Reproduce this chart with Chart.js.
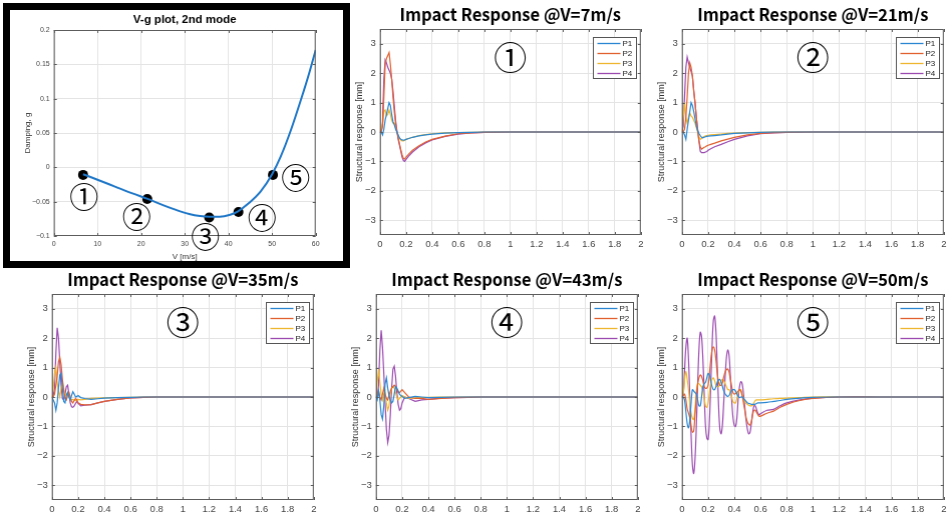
<!DOCTYPE html>
<html>
<head>
<meta charset="utf-8">
<title>V-g plot and impact responses</title>
<script src="https://cdn.jsdelivr.net/npm/chart.js@4.4.1/dist/chart.umd.min.js"></script>
<style>
  html, body { margin: 0; padding: 0; background: #fff; overflow: hidden; }
  #page { position: relative; width: 948px; height: 515px; }
  .panel { position: absolute; left: 0; top: 0; width: 320px; height: 270px; }
  .panel canvas { display: block; }
  #frame { position: absolute; left: 3px; top: 3px; width: 333px; height: 251px; border: 7px solid #000; }
</style>
</head>
<body>
<div id="page">
  <div id="frame"></div>
  <div class="panel" id="w0"><canvas id="c0"></canvas></div>
  <div class="panel" id="w1"><canvas id="c1"></canvas></div>
  <div class="panel" id="w2"><canvas id="c2"></canvas></div>
  <div class="panel" id="w3"><canvas id="c3"></canvas></div>
  <div class="panel" id="w4"><canvas id="c4"></canvas></div>
  <div class="panel" id="w5"><canvas id="c5"></canvas></div>
</div>
<script>
// ---- V-g plot (2nd mode) ----
const vgSpeed   = [6.7, 10, 14, 18, 21.5, 25, 28, 31, 33.5, 35.7, 38, 40.4, 42.2, 44.7, 47.4, 50, 52, 54.3, 56.6, 58.5, 60];
const vgDamping = [-0.010, -0.018, -0.028, -0.038, -0.046, -0.055, -0.062, -0.068, -0.071, -0.072, -0.072, -0.069, -0.064, -0.052, -0.035, -0.010, 0.016, 0.054, 0.098, 0.137, 0.171];
const caseSpeed   = [6.7, 21.4, 35.6, 42.3, 50.2];
const caseDamping = [-0.011, -0.046, -0.073, -0.065, -0.011];
const caseLabels  = ['①', '②', '③', '④', '⑤'];
const caseLabelV  = [6.9, 19, 34.7, 47.7, 55.4];
const caseLabelG  = [-0.043, -0.072, -0.102, -0.074, -0.016];
const vgXTicks = [0, 10, 20, 30, 40, 50, 60];
const vgYTicks = [-0.1, -0.05, 0, 0.05, 0.1, 0.15, 0.2];

// ---- impact responses ----
const speeds = [7, 21, 35, 43, 50];
const seriesNames = ['P1', 'P2', 'P3', 'P4'];
const respXTicks = [0, 0.2, 0.4, 0.6, 0.8, 1, 1.2, 1.4, 1.6, 1.8, 2];
const respYTicks = [-3, -2, -1, 0, 1, 2, 3];
const labelT = 1.0, labelY = 2.55;   // where the circled case number sits

// time base for 7, 21, 35, 43 m/s [s]
const tA = [0, 0.01, 0.02, 0.03, 0.04, 0.05, 0.06, 0.07, 0.08, 0.09, 0.1, 0.11, 0.12, 0.13, 0.14, 0.15, 0.16, 0.17, 0.18, 0.19, 0.2, 0.22, 0.25, 0.3, 0.35, 0.4, 0.5, 0.6, 0.7, 0.8, 1, 1.5, 2];

const v7P1 = [0, 0, -0.1, 0.1, 0.4, 0.6, 0.8, 1.0, 0.9, 0.6, 0.35, 0.25, 0.1, 0, -0.1, -0.2, -0.25, -0.27, -0.28, -0.27, -0.25, -0.22, -0.18, -0.13, -0.1, -0.07, -0.04, -0.02, -0.01, 0, 0, 0, 0];
const v7P2 = [0, 0, 0.2, 1.2, 2.3, 2.5, 2.6, 2.7, 2.3, 1.8, 1.2, 0.7, 0.3, 0, -0.2, -0.4, -0.6, -0.78, -0.9, -0.92, -0.85, -0.75, -0.62, -0.47, -0.34, -0.25, -0.14, -0.06, -0.03, -0.01, 0, 0, 0];
const v7P3 = [0, 0.05, 0.3, 0.7, 0.75, 0.55, 0.6, 0.75, 0.6, 0.4, 0.3, 0.3, 0.15, 0, -0.12, -0.22, -0.27, -0.3, -0.3, -0.28, -0.25, -0.22, -0.18, -0.12, -0.09, -0.06, -0.03, -0.02, -0.01, 0, 0, 0, 0];
const v7P4 = [0, 0, 0.3, 1.8, 2.45, 2.35, 2.2, 2.1, 2.0, 1.8, 1.4, 0.9, 0.4, 0.05, -0.25, -0.45, -0.65, -0.85, -0.97, -1.0, -0.93, -0.82, -0.68, -0.5, -0.37, -0.27, -0.15, -0.07, -0.03, -0.01, 0, 0, 0];

const v21P1 = [0, 0, -0.1, -0.25, 0.1, 0.4, 0.7, 1.0, 0.9, 0.7, 0.45, 0.2, 0.05, -0.05, -0.12, -0.18, -0.2, -0.18, -0.16, -0.15, -0.14, -0.13, -0.12, -0.1, -0.07, -0.05, -0.03, -0.01, 0, 0, 0, 0, 0];
const v21P2 = [0, 0, 0.1, 0.5, 1.2, 2.0, 2.35, 2.2, 1.9, 1.4, 1.0, 0.5, 0.05, -0.3, -0.5, -0.58, -0.55, -0.52, -0.5, -0.47, -0.45, -0.42, -0.38, -0.3, -0.24, -0.18, -0.1, -0.05, -0.02, -0.01, 0, 0, 0];
const v21P3 = [0, 0.5, 1.0, 0.5, 0.3, 0.5, 0.65, 0.55, 0.5, 0.4, 0.3, 0.15, 0, -0.15, -0.25, -0.22, -0.18, -0.15, -0.13, -0.12, -0.11, -0.1, -0.09, -0.07, -0.05, -0.04, -0.02, -0.01, 0, 0, 0, 0, 0];
const v21P4 = [0, 0.2, 1.2, 2.2, 2.55, 2.35, 2.2, 2.05, 1.9, 1.4, 1.0, 0.5, 0.1, -0.3, -0.65, -0.7, -0.7, -0.7, -0.68, -0.66, -0.62, -0.57, -0.5, -0.42, -0.33, -0.25, -0.13, -0.06, -0.03, -0.01, 0, 0, 0];

const v35P1 = [0, -0.1, -0.2, -0.45, -0.2, 0.3, 0.75, 0.8, 0.3, -0.15, -0.2, 0.05, 0.15, 0, -0.1, 0.05, 0.18, 0.1, 0, 0.02, 0.05, -0.02, -0.05, -0.08, -0.06, -0.04, -0.02, -0.01, 0, 0, 0, 0, 0];
const v35P2 = [0, 0, 0.1, 0.4, 0.7, 1.2, 1.35, 1.1, 0.6, 0.2, -0.05, -0.1, 0.05, 0.15, 0, -0.15, -0.2, -0.12, -0.05, -0.1, -0.2, -0.25, -0.27, -0.26, -0.2, -0.15, -0.08, -0.03, -0.01, 0, 0, 0, 0];
const v35P3 = [0, 0.3, 0.8, 1.0, 0.5, 0.2, 0, 0.3, 0.5, 0.3, 0.05, 0.1, 0.15, 0.05, -0.05, -0.1, -0.08, -0.1, -0.12, -0.1, -0.08, -0.1, -0.08, -0.05, -0.04, -0.03, -0.02, -0.01, 0, 0, 0, 0, 0];
const v35P4 = [0, 0.05, 0.3, 1.5, 2.35, 2.0, 1.2, 0.4, -0.05, -0.1, 0.1, 0.35, 0.4, 0.1, -0.2, -0.33, -0.35, -0.3, -0.22, -0.15, -0.22, -0.3, -0.28, -0.26, -0.2, -0.15, -0.08, -0.03, -0.01, 0, 0, 0, 0];

const v43P1 = [0, -0.1, 0.2, -0.1, -0.6, -0.75, -0.3, 0.45, 0.65, 0.3, 0.05, -0.1, -0.2, -0.15, 0.1, 0.35, 0.3, 0.2, 0.1, 0.05, 0.02, -0.05, -0.02, 0.02, 0, -0.02, -0.01, 0, 0, 0, 0, 0, 0];
const v43P2 = [0, 0.05, 0.2, 0, -0.1, 0.1, 0.3, 0.1, -0.05, -0.1, 0.05, 0.2, 0.3, 0.35, 0.4, 0.35, 0.25, 0.15, 0.15, 0.2, 0.25, 0.15, 0, -0.05, -0.05, -0.08, -0.05, -0.02, -0.01, 0, 0, 0, 0];
const v43P3 = [0, 0.5, 0.95, 0.5, 0.1, -0.1, 0.1, 0.2, -0.2, -0.45, -0.3, 0.1, 0.3, 0.35, 0.3, 0.15, 0, -0.1, -0.05, 0, 0.05, 0, -0.05, -0.03, -0.02, -0.01, 0, 0, 0, 0, 0, 0, 0];
const v43P4 = [0, 0, 0.4, 1.6, 2.27, 1.7, 0.8, -0.2, -1.1, -1.55, -1.3, -0.6, 0.3, 0.95, 1.05, 0.7, 0.15, -0.25, -0.45, -0.4, -0.2, 0, -0.05, -0.15, -0.1, -0.08, -0.04, -0.02, -0.01, 0, 0, 0, 0];

// time base for 50 m/s [s]
const tB = [0, 0.01, 0.02, 0.03, 0.04, 0.05, 0.06, 0.07, 0.08, 0.09,
  0.1, 0.11, 0.12, 0.13, 0.14, 0.15, 0.16, 0.17, 0.18, 0.19,
  0.2, 0.21, 0.22, 0.23, 0.24, 0.25, 0.26, 0.27, 0.28, 0.29,
  0.3, 0.31, 0.32, 0.33, 0.34, 0.35, 0.36, 0.37, 0.38, 0.39,
  0.4, 0.41, 0.42, 0.43, 0.44, 0.45, 0.46, 0.47, 0.48, 0.49,
  0.5, 0.51, 0.52, 0.53, 0.54, 0.55, 0.56, 0.57, 0.58, 0.59,
  0.6, 0.65, 0.7, 0.75, 0.8, 0.9, 1, 1.2, 1.5, 2];

const v50P1 = [0, 0, -0.1, -0.5, -0.9, -1.05, -0.8, -0.2, 0.25, 0.2,
  0.15, 0.1, -0.1, -0.3, -0.3, 0, 0.35, 0.45, 0.5, 0.65,
  0.8, 0.75, 0.55, 0.35, 0.25, 0.25, 0.35, 0.5, 0.58, 0.6,
  0.5, 0.35, 0.2, 0.1, 0.05, 0.02, 0.05, 0.15, 0.22, 0.25,
  0.25, 0.2, 0.1, 0.02, -0.02, 0, 0, -0.05, -0.1, -0.15,
  -0.2, -0.22, -0.23, -0.25, -0.25, -0.25, -0.24, -0.22, -0.2, -0.2,
  -0.2, -0.18, -0.15, -0.12, -0.08, -0.04, -0.01, 0, 0, 0];
const v50P2 = [0, 0.05, 0.1, -0.1, -0.4, -0.55, -0.7, -1.0, -1.2, -1.15,
  -0.6, 0, 0.45, 0.65, 0.75, 0.7, 0.55, 0.35, 0.3, 0.3,
  0.4, 0.8, 1.25, 1.6, 1.7, 1.6, 1.25, 0.8, 0.5, 0.4,
  0.4, 0.5, 0.7, 0.85, 0.93, 0.95, 0.85, 0.6, 0.35, 0.15,
  0.1, 0.12, 0.15, 0.2, 0.25, 0.2, 0.05, -0.2, -0.45, -0.7,
  -0.85, -0.93, -0.95, -0.85, -0.6, -0.45, -0.45, -0.52, -0.6, -0.65,
  -0.65, -0.55, -0.48, -0.35, -0.25, -0.12, -0.05, 0, 0, 0];
const v50P3 = [0, 0.1, 0.6, 0.87, 0.6, 0.25, -0.2, -0.55, -0.72, -0.77,
  -0.4, 0.2, 0.45, 0.45, 0.4, 0.35, 0.2, -0.05, -0.3, -0.35,
  -0.2, 0.15, 0.45, 0.6, 0.65, 0.55, 0.4, 0.35, 0.35, 0.45,
  0.55, 0.6, 0.55, 0.45, 0.35, 0.25, 0.25, 0.15, 0, -0.15,
  -0.2, -0.2, -0.05, 0.15, 0.25, 0.25, 0.1, -0.05, -0.15, -0.22,
  -0.25, -0.28, -0.3, -0.3, -0.28, -0.2, -0.12, -0.1, -0.1, -0.1,
  -0.1, -0.08, -0.06, -0.05, -0.04, -0.02, 0, 0, 0, 0];
const v50P4 = [0, 0.1, 0.9, 1.7, 2.0, 1.3, 0, -1.3, -2.3, -2.6,
  -2.1, -1.0, 0.4, 1.6, 2.2, 2.05, 1.3, 0.1, -1.0, -1.4,
  -1.45, -0.8, 0.4, 1.7, 2.6, 2.75, 2.2, 1.0, -0.3, -1.1,
  -1.25, -0.9, -0.1, 0.7, 1.35, 1.6, 1.4, 0.7, -0.1, -0.7,
  -0.97, -1.0, -0.7, -0.05, 0.35, 0.52, 0.45, 0.1, -0.35, -0.8,
  -1.1, -1.25, -1.2, -0.9, -0.55, -0.3, -0.3, -0.42, -0.55, -0.6,
  -0.57, -0.45, -0.42, -0.3, -0.2, -0.1, -0.04, 0, 0, 0];

const seriesColors = ['#2a86d1', '#e0602e', '#eeb62e', '#9b4bb0'];

// plot boxes in the 948x515 page (chart area position)
const boxes = [
  {x: 54,  y: 30,  w: 261, h: 206},
  {x: 380, y: 29,  w: 260, h: 206},
  {x: 682, y: 29,  w: 261, h: 206},
  {x: 52,  y: 294, w: 261, h: 206},
  {x: 376, y: 294, w: 261, h: 206},
  {x: 682, y: 294, w: 261, h: 206}
];

Chart.defaults.font.family = "'Liberation Sans', Arial, sans-serif";
Chart.defaults.color = '#444';

const fmt = v => String(v).replace('-', '\u2212');
const sans = "'Liberation Sans', Arial, sans-serif";

// draws the axes box, inward ticks, titles, circled case numbers and the legend box
const decor = {
  id: 'decor',
  afterDraw(chart, args, o) {
    const {ctx, chartArea: a, scales: {x, y}} = chart;
    ctx.save();
    const seg = (x1, y1, x2, y2) => { ctx.beginPath(); ctx.moveTo(x1, y1); ctx.lineTo(x2, y2); ctx.stroke(); };
    ctx.strokeStyle = '#5c5c5c';
    ctx.lineWidth = 1;
    ctx.strokeRect(a.left + 0.5, a.top + 0.5, a.right - a.left - 1, a.bottom - a.top - 1);
    x.ticks.forEach(t => {
      const px = Math.round(x.getPixelForValue(t.value)) + 0.5;
      seg(px, a.bottom, px, a.bottom - 3);
      seg(px, a.top, px, a.top + 3);
    });
    y.ticks.forEach(t => {
      const py = Math.round(y.getPixelForValue(t.value)) + 0.5;
      seg(a.left, py, a.left + 3, py);
      seg(a.right, py, a.right - 3, py);
    });

    ctx.textAlign = 'center';
    ctx.textBaseline = 'middle';
    ctx.fillStyle = '#333';
    ctx.font = o.axisFont;
    if (o.xTitle) ctx.fillText(o.xTitle, (a.left + a.right) / 2, a.bottom + o.xTitleGap);
    if (o.yTitle) {
      ctx.save();
      ctx.translate(a.left - o.yTitleGap, (a.top + a.bottom) / 2);
      ctx.rotate(-Math.PI / 2);
      ctx.fillText(o.yTitle, 0, 0);
      ctx.restore();
    }

    ctx.fillStyle = '#000';
    ctx.font = o.titleFont;
    ctx.fillText(o.title, (a.left + a.right) / 2, a.top - o.titleGap);

    ctx.font = o.markFont;
    o.marks.forEach(m => ctx.fillText(m.text, x.getPixelForValue(m.x), y.getPixelForValue(m.y)));

    if (o.legend) {
      const bw = 43, bh = 41;
      const bx = Math.round(a.right - 5 - bw) + 0.5, by = Math.round(a.top + 8) + 0.5;
      ctx.fillStyle = '#fff';
      ctx.fillRect(bx, by, bw, bh);
      ctx.strokeStyle = '#555';
      ctx.strokeRect(bx, by, bw, bh);
      ctx.font = '8px ' + sans;
      ctx.textAlign = 'left';
      chart.data.datasets.forEach((ds, i) => {
        const ry = by + 6 + i * 10;
        ctx.strokeStyle = ds.borderColor;
        ctx.lineWidth = 1.3;
        seg(bx + 4, ry, bx + 27, ry);
        ctx.fillStyle = '#222';
        ctx.fillText(ds.label, bx + 29, ry + 0.5);
      });
    }
    ctx.restore();
  }
};

function axis(min, max, ticks, size) {
  return {
    type: 'linear', min, max,
    afterBuildTicks: ax => { ax.ticks = ticks.map(v => ({value: v})); },
    ticks: { callback: v => fmt(v), font: {size}, color: '#444', padding: 4, maxRotation: 0, autoSkip: false },
    grid: { color: '#e4e4e4', drawTicks: false },
    border: { display: false }
  };
}

// move/resize each canvas so that its chart area lands on the wanted box
function place(chart, wrap, box) {
  for (let k = 0; k < 2; k++) {
    const a = chart.chartArea;
    wrap.style.width = (chart.width + box.w - (a.right - a.left)) + 'px';
    wrap.style.height = (chart.height + box.h - (a.bottom - a.top)) + 'px';
    chart.resize();
    const b = chart.chartArea;
    wrap.style.left = (box.x - b.left) + 'px';
    wrap.style.top = (box.y - b.top) + 'px';
  }
}

// V-g plot
const vgChart = new Chart(document.getElementById('c0'), {
  type: 'line',
  data: {
    datasets: [
      { data: vgSpeed.map((v, i) => ({x: v, y: vgDamping[i]})), borderColor: '#1f77c8', borderWidth: 2,
        pointRadius: 0, tension: 0.4, cubicInterpolationMode: 'monotone' },
      { data: caseSpeed.map((v, i) => ({x: v, y: caseDamping[i]})), showLine: false,
        pointRadius: 5, pointBackgroundColor: '#000', pointBorderWidth: 0 }
    ]
  },
  options: {
    responsive: true, maintainAspectRatio: false, animation: false,
    layout: { padding: {top: 26, right: 8, bottom: 18, left: 14} },
    plugins: {
      legend: { display: false }, tooltip: { enabled: false },
      decor: {
        title: 'V-g plot, 2nd mode', titleFont: 'bold 11.5px ' + sans, titleGap: 10,
        axisFont: '8px ' + sans, xTitle: 'V [m/s]', xTitleGap: 21, yTitle: 'Damping, g', yTitleGap: 26,
        markFont: "29px 'Noto Sans CJK KR'",
        marks: caseLabels.map((s, i) => ({text: s, x: caseLabelV[i], y: caseLabelG[i]})),
        legend: false
      }
    },
    scales: {
      x: axis(0, 60, vgXTicks, 7),
      y: axis(-0.1, 0.2, vgYTicks, 7)
    }
  },
  plugins: [decor]
});
place(vgChart, document.getElementById('w0'), boxes[0]);

// impact response panels
const times = [tA, tA, tA, tA, tB];
const responses = [
  [v7P1, v7P2, v7P3, v7P4],
  [v21P1, v21P2, v21P3, v21P4],
  [v35P1, v35P2, v35P3, v35P4],
  [v43P1, v43P2, v43P3, v43P4],
  [v50P1, v50P2, v50P3, v50P4]
];

speeds.forEach((s, k) => {
  const t = times[k];
  const chart = new Chart(document.getElementById('c' + (k + 1)), {
    type: 'line',
    data: {
      datasets: responses[k].map((vals, j) => ({
        label: seriesNames[j],
        data: t.map((tt, i) => ({x: tt, y: vals[i]})),
        borderColor: seriesColors[j], borderWidth: 1.2, pointRadius: 0,
        tension: k === 4 ? 0.35 : 0
      }))
    },
    options: {
      responsive: true, maintainAspectRatio: false, animation: false,
      layout: { padding: {top: 32, right: 8, bottom: 2, left: 16} },
      plugins: {
        legend: { display: false }, tooltip: { enabled: false },
        decor: {
          title: 'Impact Response @V=' + s + 'm/s',
          titleFont: "bold 16.6px 'Noto Sans CJK KR', 'Noto Sans', sans-serif", titleGap: 14,
          axisFont: '9px ' + sans, yTitle: 'Structural response [mm]', yTitleGap: 20,
          markFont: "33px 'Noto Sans CJK KR'",
          marks: [{text: caseLabels[k], x: labelT, y: labelY}],
          legend: true
        }
      },
      scales: {
        x: axis(0, 2, respXTicks, 9.5),
        y: axis(-3.5, 3.5, respYTicks, 9.5)
      }
    },
    plugins: [decor]
  });
  place(chart, document.getElementById('w' + (k + 1)), boxes[k + 1]);
});
</script>
</body>
</html>
